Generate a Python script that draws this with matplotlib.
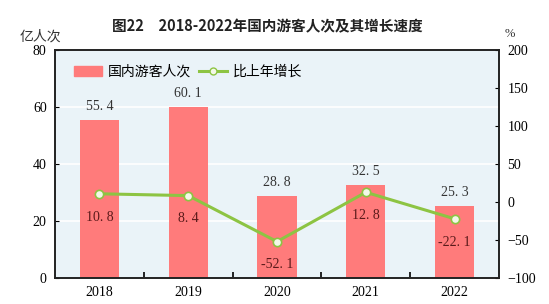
import matplotlib
matplotlib.use("Agg")
import matplotlib.pyplot as plt
from matplotlib.lines import Line2D
from matplotlib.patches import Patch

years = ["2018", "2019", "2020", "2021", "2022"]
visitors = [55.4, 60.1, 28.8, 32.5, 25.3]
growth = [10.8, 8.4, -52.1, 12.8, -22.1]

cjk = ["Noto Sans CJK SC", "DejaVu Sans"]
serif = ["Liberation Serif", "DejaVu Serif"]

W, H = 549, 304
fig = plt.figure(figsize=(W/100, H/100), dpi=100)
ax = fig.add_axes([55/W, 1-278/H, 444/W, 228/H])
ax.set_facecolor("#EAF3F8")
x = list(range(len(years)))
bar_color = "#FF7B7B"
line_color = "#8DC443"
ax.bar(x, visitors, width=0.44, color=bar_color, zorder=2)
ax.set_xlim(-0.5, 4.5)
ax.set_ylim(0, 80)
ax.set_yticks([0, 20, 40, 60, 80])
ax.yaxis.grid(True, color="white", linewidth=1.2, zorder=1)
ax.set_axisbelow(True)
ax.set_xticks(x)
ax.set_xticklabels(years, fontfamily=serif, fontsize=10)
ax.set_xticks([0.5, 1.5, 2.5, 3.5], minor=True)
ax.tick_params(axis="x", which="major", length=0, pad=6)
ax.tick_params(axis="x", which="minor", length=4, direction="in", width=1.2)
ax.tick_params(axis="y", direction="in", length=3, labelsize=10, pad=6)
for lab in ax.get_yticklabels():
    lab.set_fontfamily(serif)
for s in ["left", "bottom", "right", "top"]:
    ax.spines[s].set_linewidth(1.2)
    ax.spines[s].set_color("#222222")

for xi, v in zip(x, visitors):
    ax.text(xi, v + 2.5, f"{v:.1f}".replace(".", ". "), ha="center", va="bottom",
            fontfamily=serif, fontsize=10, color="#333333")

ax2 = ax.twinx()
ax2.set_ylim(-100, 200)
ax2.set_yticks([-100, -50, 0, 50, 100, 150, 200])
ax2.tick_params(axis="y", direction="in", length=3, labelsize=10, pad=6)
for lab in ax2.get_yticklabels():
    lab.set_fontfamily(serif)
ax2.plot(x, growth, color=line_color, linewidth=2.2, marker="o", markersize=6,
         markerfacecolor="#F4F8E8", markeredgecolor=line_color, markeredgewidth=1.2, zorder=3)
for xi, g in zip(x, growth):
    ax2.text(xi, g - 22, f"{g:.1f}".replace(".", ". "), ha="center", va="top",
             fontfamily=serif, fontsize=10, color="#5A1A1A")
for s in ["left", "bottom", "right", "top"]:
    ax2.spines[s].set_linewidth(1.2)
    ax2.spines[s].set_color("#222222")

handles = [Patch(color=bar_color),
           Line2D([0], [0], color=line_color, linewidth=2.2, marker="o", markersize=5,
                  markerfacecolor="#F4F8E8", markeredgecolor=line_color)]
leg = ax.legend(handles, ["国内游客人次", "比上年增长"], loc="upper left",
                bbox_to_anchor=(0.015, 0.99), ncol=2, frameon=False,
                prop={"family": cjk, "size": 10}, handlelength=2.0,
                columnspacing=0.6, handletextpad=0.4)

fig.text(0.487, 1-26/H, "图22　2018-2022年国内游客人次及其增长速度", ha="center", va="center",
         fontfamily=cjk, fontsize=10.5, fontweight="bold", color="#222222")
fig.text(40/W, 1-37/H, "亿人次", ha="center", va="center", fontfamily=cjk, fontsize=10, color="#333333")
fig.text(510/W, 1-34/H, "%", ha="center", va="center", fontfamily=serif, fontsize=9, color="#333333")

fig.savefig("out.png", dpi=100)
